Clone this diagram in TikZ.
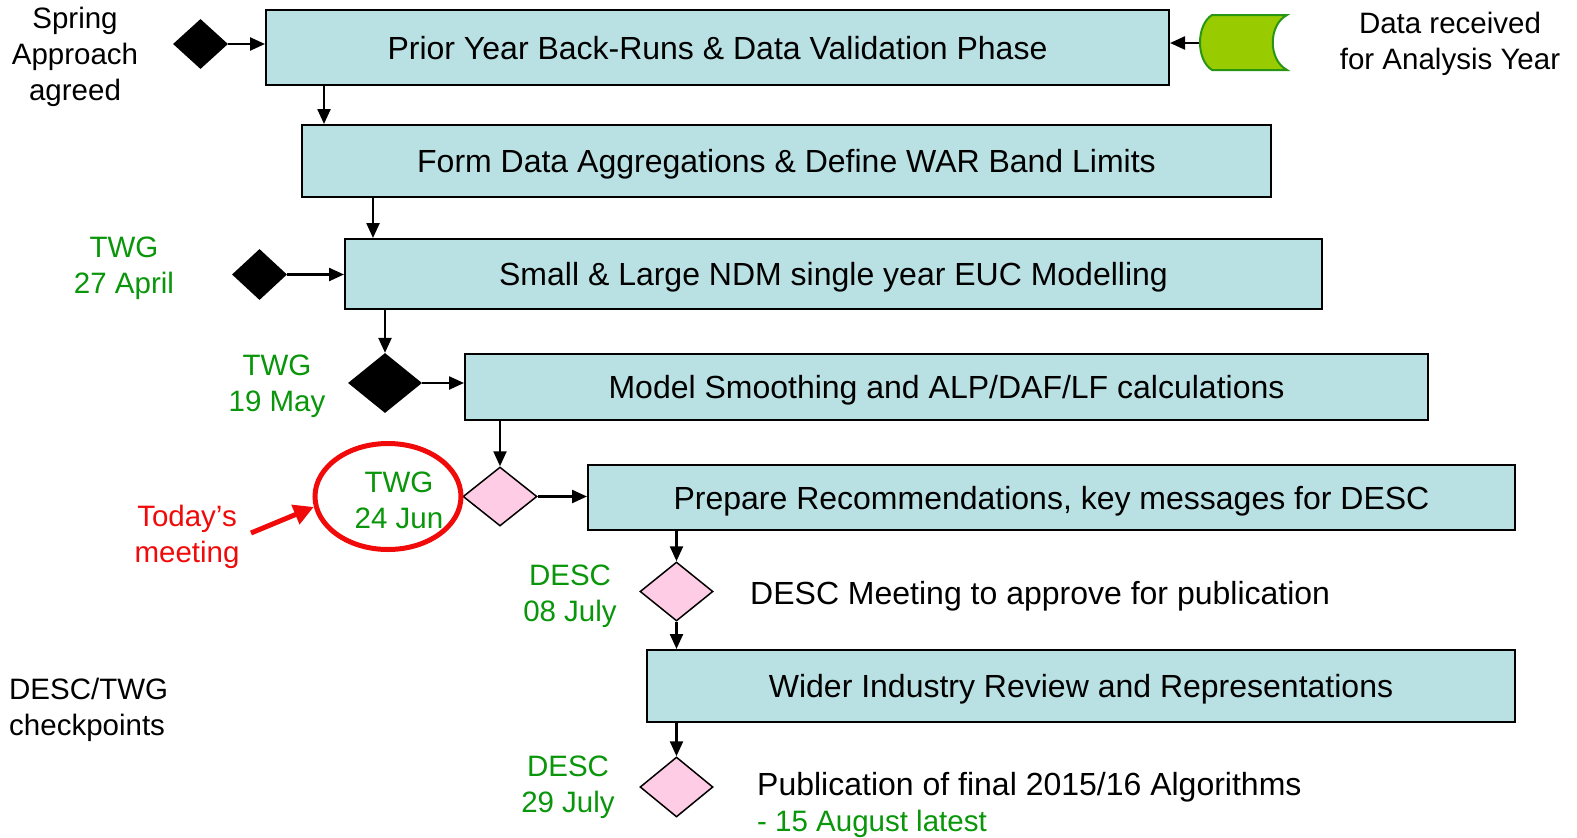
\documentclass[tikz,border=0pt]{standalone}
\usepackage{fontspec}
\setmainfont{Liberation Sans}
\usetikzlibrary{shapes.geometric,arrows.meta,calc}
\definecolor{boxfill}{RGB}{185,224,226}
\definecolor{pinkfill}{RGB}{255,204,229}
\definecolor{tgreen}{RGB}{10,150,10}
\definecolor{canfill}{RGB}{153,204,0}
\definecolor{canline}{RGB}{40,150,20}
\definecolor{hired}{RGB}{240,10,10}
\newcommand{\bigtext}{\fontsize{32}{38}\selectfont}
\newcommand{\sidetext}{\fontsize{29.5}{36}\selectfont}
\tikzset{
  every node/.style={font=\sidetext},
  stage/.style={draw=black, line width=2pt, fill=boxfill, rectangle, inner sep=0pt,
    font=\bigtext, text height=23pt, text depth=0pt},
  milestone/.style={diamond, fill=black, inner sep=0pt},
  checkpoint/.style={diamond, draw=black, line width=1.5pt, fill=pinkfill, inner sep=0pt},
  link/.style={line width=2.4pt, -{Triangle[length=15pt,width=13pt]}},
  label/.style={align=center, inner sep=0pt},
  glabel/.style={label, text=tgreen},
}
\begin{document}
\begin{tikzpicture}[x=1pt,y=-1pt]
\useasboundingbox[fill=white] (0,0) rectangle (1577,838);

% process stages
\node[stage, minimum width=903, minimum height=75] (b1) at (717.5,47.5) {Prior Year Back-Runs \& Data Validation Phase};
\node[stage, minimum width=969, minimum height=72] (b2) at (786.5,161) {Form Data Aggregations \& Define WAR Band Limits};
\node[stage, minimum width=977, minimum height=70] (b3) at (833.5,274) {Small \& Large NDM single year EUC Modelling};
\node[stage, minimum width=963, minimum height=66] (b4) at (946.5,387) {Model Smoothing and ALP/DAF/LF calculations};
\node[stage, minimum width=927, minimum height=65] (b5) at (1051.5,497.5) {Prepare Recommendations, key messages for DESC};
\node[stage, minimum width=868, minimum height=72] (b6) at (1081,686) {Wider Industry Review and Representations};

% milestones
\node[milestone, minimum width=55, minimum height=50] (m1) at (200.5,44) {};
\node[milestone, minimum width=55, minimum height=51] (m2) at (259.5,274.5) {};
\node[milestone, minimum width=74, minimum height=60] (m3) at (385,383) {};
\node[checkpoint, minimum width=74, minimum height=59] (c1) at (500,496.5) {};
\node[checkpoint, minimum width=73, minimum height=59] (c2) at (676.5,591.5) {};
\node[checkpoint, minimum width=73, minimum height=60] (c3) at (676.5,787) {};

% incoming data store
\fill[canfill, draw=canline, line width=2pt]
  (1212,15) -- (1287,15) .. controls (1268,25) and (1268,60) .. (1287,70)
  -- (1212,70) .. controls (1196,60) and (1196,25) .. (1212,15) -- cycle;
\coordinate (data) at (1199,43);

% side labels
\node[label] (spring) at (75,57) {Spring\\Approach\\agreed};
\node[label] (recv) at (1450,44) {Data received\\for Analysis Year};
\node[glabel] (twg1) at (124,268) {TWG\\27 April};
\node[glabel] (twg2) at (277,386) {TWG\\19 May};
\node[glabel] (twg3) at (399,500) {TWG\\24 Jun};
\node[label, text=hired] (today) at (187,537) {Today’s\\meeting};
\node[glabel] (desc1) at (570,596) {DESC\\08 July};
\node[glabel] (desc2) at (568,787) {DESC\\29 July};
\node[label, anchor=west, font=\bigtext] (approve) at (750,596) {DESC Meeting to approve for publication};
\node[label, anchor=west, font=\bigtext] (pub) at (757,787) {Publication of final 2015/16 Algorithms};
\node[label, anchor=west, text=tgreen] (late) at (757,824) {- 15 August latest};
\node[label, align=left, anchor=west] (legend) at (9,710) {DESC/TWG\\checkpoints};

% highlight of the current meeting
\node[ellipse, draw=hired, line width=5pt, minimum width=146, minimum height=106, inner sep=0pt] (now) at (388,496.5) {};
\coordinate (tail) at (251,533);
\draw[hired, line width=5pt, -{Triangle[length=20pt,width=20pt]}] (tail) -- (now.188);

% drop points of the vertical links
\coordinate (s1) at ($(b1.south west)+(59,0)$);
\coordinate (s2) at ($(b2.south west)+(72,0)$);

% connectors
\draw[link] (m1.east) -- (m1.east -| b1.west);
\draw[link] (data) -- (data -| b1.east);
\draw[link] (s1) -- (s1 |- b2.north);
\draw[link] (s2) -- (s2 |- b3.north);
\draw[link] (m2.east) -- (m2.east -| b3.west);
\draw[link] (m3 |- b3.south) -- (m3.north);
\draw[link] (m3.east) -- (m3.east -| b4.west);
\draw[link] (c1 |- b4.south) -- (c1.north);
\draw[link] (c1.east) -- (c1.east -| b5.west);
\draw[link] (c2 |- b5.south) -- (c2.north);
\draw[link] (c2.south) -- (c2.south |- b6.north);
\draw[link] (c3 |- b6.south) -- (c3.north);
\end{tikzpicture}
\end{document}
